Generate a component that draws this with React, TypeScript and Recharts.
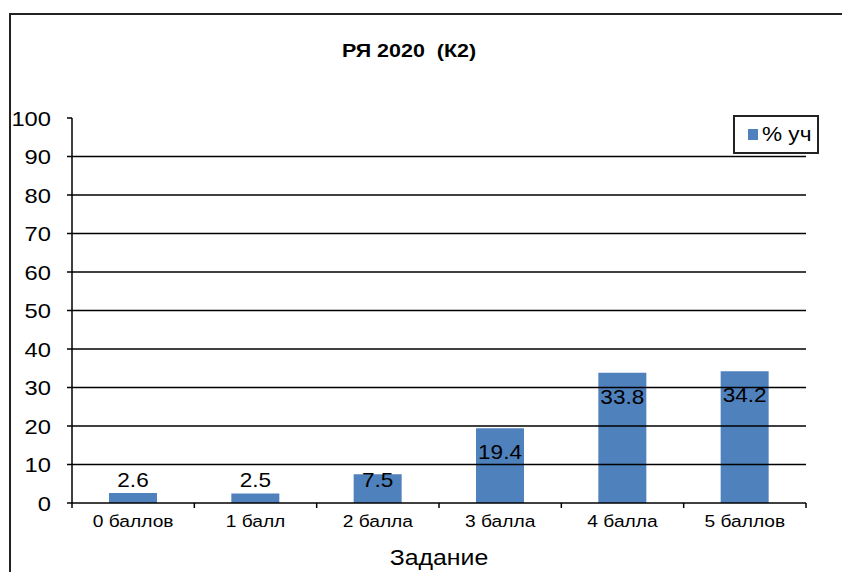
import React from "react";
import { BarChart, Bar, XAxis, YAxis, LabelList, ReferenceLine, Label } from "recharts";

const categories = ["0 баллов", "1 балл", "2 балла", "3 балла", "4 балла", "5 баллов"];
const percents = [2.6, 2.5, 7.5, 19.4, 33.8, 34.2];
const yTicks = [0, 10, 20, 30, 40, 50, 60, 70, 80, 90, 100];
const seriesName = "% уч";
const title = "РЯ 2020  (К2)";
const axisTitle = "Задание";

const data = categories.map((c, i) => ({ name: c, value: percents[i] }));

const W = 842;
const H = 572;
const PLOT_LEFT = 72;
const PLOT_RIGHT = 806;
const BAND = (PLOT_RIGHT - PLOT_LEFT) / categories.length;
const FONT = "'Liberation Sans', Arial, sans-serif";
const BLUE = "#4F81BD";
const SX = 1.13; // reference text looks horizontally stretched

function Stretched({ x, y, anchor, size, weight, children }: any) {
  return (
    <text
      transform={`translate(${x},${y}) scale(${SX},1)`}
      textAnchor={anchor}
      fontSize={size}
      fontWeight={weight}
      fontFamily={FONT}
      fill="#000"
    >
      {children}
    </text>
  );
}

function XTick(props: any) {
  const { x, y, payload, index } = props;
  return (
    <g>
      <line x1={x - BAND / 2} x2={x - BAND / 2} y1={y} y2={y + 5} stroke="#000" strokeWidth={1.5} />
      {index === categories.length - 1 && (
        <line x1={x + BAND / 2} x2={x + BAND / 2} y1={y} y2={y + 5} stroke="#000" strokeWidth={1.5} />
      )}
      <Stretched x={x} y={y + 24} anchor="middle" size={17}>
        {payload.value}
      </Stretched>
    </g>
  );
}

function YTick(props: any) {
  const { x, y, payload } = props;
  return (
    <Stretched x={x} y={y + 7.5} anchor="end" size={21}>
      {payload.value}
    </Stretched>
  );
}

function ValueLabel(props: any) {
  const { x, y, width, height, value } = props;
  const cy = Math.min(y + 24, y + height - 23);
  return (
    <Stretched x={x + width / 2} y={cy + 7} anchor="middle" size={20}>
      {value}
    </Stretched>
  );
}

function AxisTitle(props: any) {
  const { viewBox } = props;
  return (
    <Stretched x={viewBox.x + viewBox.width / 2} y={565} anchor="middle" size={22}>
      {axisTitle}
    </Stretched>
  );
}

export default function App() {
  return (
    <div style={{ position: "absolute", left: 0, top: 0, width: W, height: H, background: "#fff", overflow: "hidden" }}>
      <div style={{ position: "absolute", left: 9, top: 13, width: W, height: 2, background: "#222" }} />
      <div style={{ position: "absolute", left: 9, top: 13, width: 2, height: H, background: "#222" }} />
      <div
        style={{
          position: "absolute",
          left: 309,
          top: 40,
          width: 200,
          textAlign: "center",
          whiteSpace: "pre",
          fontFamily: FONT,
          fontWeight: "bold",
          fontSize: 19,
          color: "#000",
          transform: `scaleX(${SX})`,
        }}
      >
        {title}
      </div>
      <BarChart
        width={W}
        height={H}
        data={data}
        margin={{ top: 118, right: W - PLOT_RIGHT, left: 12, bottom: 0 }}
        style={{ position: "absolute", left: 0, top: 0 }}
      >
        <XAxis
          dataKey="name"
          height={69}
          axisLine={{ stroke: "#000", strokeWidth: 1.5 }}
          tickLine={false}
          tickSize={0}
          tickMargin={0}
          interval={0}
          tick={<XTick />}
        >
          <Label content={<AxisTitle />} />
        </XAxis>
        <YAxis
          width={60}
          domain={[0, 100]}
          ticks={yTicks}
          interval={0}
          axisLine={{ stroke: "#000", strokeWidth: 1.5 }}
          tickLine={{ stroke: "#000", strokeWidth: 1.5 }}
          tickSize={5}
          tickMargin={16}
          tick={<YTick />}
        />
        {yTicks.slice(1, -1).map((t) => (
          <ReferenceLine key={t} y={t} stroke="#000" strokeWidth={1.5} />
        ))}
        <Bar dataKey="value" name={seriesName} fill={BLUE} barSize={48} isAnimationActive={false}>
          <LabelList dataKey="value" content={<ValueLabel />} />
        </Bar>
      </BarChart>
      <div
        style={{
          position: "absolute",
          left: 733,
          top: 115,
          width: 82,
          height: 35,
          border: "2px solid #222",
          display: "flex",
          alignItems: "center",
          fontFamily: FONT,
          fontSize: 20,
          color: "#000",
          background: "#fff",
        }}
      >
        <span style={{ width: 10, height: 11, background: BLUE, marginLeft: 13, marginRight: 4 }} />
        <span style={{ display: "inline-block", transform: `scaleX(${SX})`, transformOrigin: "left center" }}>
          {seriesName}
        </span>
      </div>
    </div>
  );
}
